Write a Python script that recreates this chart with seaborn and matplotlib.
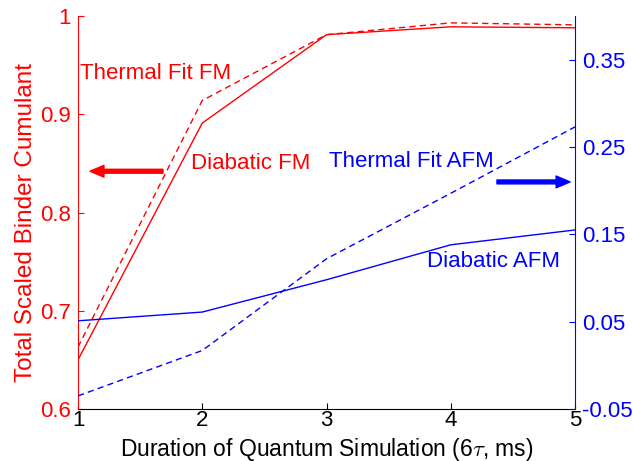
import matplotlib
matplotlib.use("Agg")
import matplotlib.pyplot as plt
import seaborn as sns
import pandas as pd

# ---- data ----
duration = [1, 2, 3, 4, 5]
diabatic_fm = [0.650, 0.891, 0.981, 0.989, 0.988]
thermal_fm = [0.663, 0.914, 0.981, 0.993, 0.991]
diabatic_afm = [0.051, 0.061, 0.098, 0.138, 0.155]
thermal_afm = [-0.035, 0.017, 0.122, 0.197, 0.273]

left_ticks = [0.6, 0.7, 0.8, 0.9, 1.0]
left_ticklabels = ["0.6", "0.7", "0.8", "0.9", "1"]
right_ticks = [-0.05, 0.05, 0.15, 0.25, 0.35]
right_ticklabels = ["-0.05", "0.05", "0.15", "0.25", "0.35"]
x_ticks = [1, 2, 3, 4, 5]

sns.set_style("ticks")
plt.rcParams["font.family"] = ["Liberation Sans", "DejaVu Sans"]
plt.rcParams["mathtext.fontset"] = "cm"

RED = (1, 0, 0)
BLUE = (0, 0, 1)
FS = 16
FS_XLAB = 16.5
FS_YLAB = 17.5

df = pd.DataFrame({"x": duration, "dfm": diabatic_fm, "tfm": thermal_fm,
                   "dafm": diabatic_afm, "tafm": thermal_afm})

fig = plt.figure(figsize=(6.33, 4.61), dpi=100)
ax = fig.add_axes([78 / 633, 1 - 409 / 461, (575 - 78) / 633, (409 - 16) / 461])
ax2 = ax.twinx()

lw = 1.0
sns.lineplot(data=df, x="x", y="dfm", ax=ax, color=RED, lw=lw)
sns.lineplot(data=df, x="x", y="tfm", ax=ax, color=RED, lw=lw)
ax.lines[-1].set_dashes([4.5, 3])
sns.lineplot(data=df, x="x", y="dafm", ax=ax2, color=BLUE, lw=lw)
sns.lineplot(data=df, x="x", y="tafm", ax=ax2, color=BLUE, lw=lw)
ax2.lines[-1].set_dashes([4.5, 3])

ax.set_xlim(1, 5)
ax.set_ylim(0.6, 1.0)
ax2.set_ylim(-0.05, 0.40)
ax.set_xticks(x_ticks)
ax.set_xticklabels([str(v) for v in x_ticks])
ax.set_yticks(left_ticks)
ax.set_yticklabels(left_ticklabels)
ax2.set_yticks(right_ticks)
ax2.set_yticklabels(right_ticklabels)

for a in (ax, ax2):
    a.spines["top"].set_visible(False)
ax.spines["right"].set_visible(False)
ax2.spines["left"].set_visible(False)
ax2.spines["bottom"].set_visible(False)
ax.spines["left"].set_color(RED)
ax2.spines["right"].set_color(BLUE)
ax.spines["bottom"].set_color("black")
for a in (ax, ax2):
    for s in a.spines.values():
        s.set_linewidth(0.8)

ax.tick_params(axis="y", direction="in", length=4, width=0.8, colors=RED,
               labelsize=FS, pad=5)
ax.tick_params(axis="x", direction="in", length=4, width=0.8, colors="black",
               labelsize=FS, pad=1)
ax2.tick_params(axis="y", direction="in", length=4, width=0.8, colors=BLUE,
                labelsize=FS, pad=5)

ax.set_xlabel("Duration of Quantum Simulation (6$\\tau$, ms)", fontsize=FS_XLAB,
              color="black")
ax.xaxis.set_label_coords(0.5, -(435.5 - 409) / 393)
ax.set_ylabel("Total Scaled Binder Cumulant", fontsize=FS_YLAB, color=RED)
ax.yaxis.set_label_coords((37 - 78) / 497, (409 - 222) / 393)
ax2.set_ylabel("")

ax.text(1.016, 0.941, "Thermal Fit FM", color=RED, fontsize=FS, va="center", ha="left")
ax.text(1.909, 0.850, "Diabatic FM", color=RED, fontsize=FS, va="center", ha="left")
ax2.text(3.02, 0.233, "Thermal Fit AFM", color=BLUE, fontsize=FS, va="center", ha="left")
ax2.text(3.809, 0.119, "Diabatic AFM", color=BLUE, fontsize=FS, va="center", ha="left")

ax.annotate("", xy=(1.097, 0.842), xytext=(1.684, 0.842),
            arrowprops=dict(facecolor=RED, edgecolor=RED, width=2.8,
                            headwidth=8.5, headlength=10, shrink=0))
ax2.annotate("", xy=(4.96, 0.21), xytext=(4.372, 0.21),
             arrowprops=dict(facecolor=BLUE, edgecolor=BLUE, width=2.8,
                             headwidth=8.5, headlength=10, shrink=0))

fig.savefig("out.png", dpi=100)
